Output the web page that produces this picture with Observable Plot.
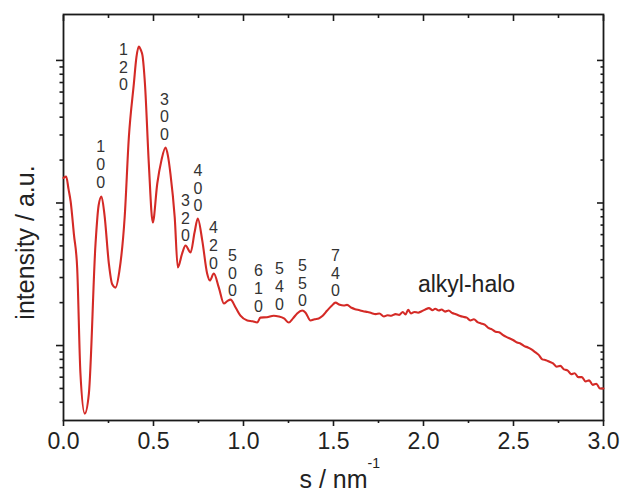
<!DOCTYPE html>
<html><head><meta charset="utf-8">
<script src="https://cdn.jsdelivr.net/npm/d3@7"></script>
<script src="https://cdn.jsdelivr.net/npm/@observablehq/plot@0.6"></script>
<style>body{margin:0;background:#fff;} #chart{width:620px;height:492px;}</style>
</head><body><div id="chart"></div>
<script>
// scattering vector s (nm^-1)
const sValues = [
  0.000,0.015,0.028,0.040,0.058,0.076,0.094,0.118,0.141,0.178,0.195,0.211,0.228,0.252,0.270,0.289,
  0.310,0.340,0.363,0.391,0.405,0.418,0.430,0.439,0.453,0.474,0.496,0.521,0.544,0.567,0.580,0.594,
  0.618,0.635,0.659,0.678,0.706,0.728,0.746,0.771,0.798,0.813,0.835,0.863,0.891,0.910,0.928,0.956,
  0.983,1.021,1.050,1.076,1.094,1.130,1.168,1.196,1.225,1.252,1.275,1.298,1.326,1.345,1.372,1.395,
  1.418,1.440,1.465,1.490,1.511,1.535,1.557,
  1.575,1.600,1.620,1.645,1.665,1.690,1.710,1.735,1.755,1.780,1.800,1.820,1.845,1.865,1.885,1.900,
  1.915,1.930,1.950,1.970,1.990,2.010,2.030,2.050,2.065,2.085,2.100,2.120,2.140,2.160,2.180,2.200,
  2.220,2.240,2.260,2.280,2.300,2.320,2.340,2.360,2.380,2.400,2.420,2.440,2.460,2.480,2.500,2.520,
  2.540,2.560,2.580,2.600,2.620,2.640,2.660,2.680,2.700,2.720,2.740,2.760,2.780,2.800,2.820,2.840,
  2.860,2.880,2.900,2.920,2.940,2.960,2.980,3.000
];
// intensity (a.u., log scale)
const intensity = [
  15.0,15.3,12.5,10.2,6.0,3.5,0.64,0.333,0.46,5.2,9.6,11.1,8.2,3.76,2.7,2.55,
  3.3,8.0,28.8,69,105,125,118,108,67,18.9,7.3,13.7,19.9,24.5,21.5,16.1,
  7.9,3.53,4.42,5.03,4.49,6.2,7.78,5.45,3.20,2.86,3.20,2.55,1.97,2.05,2.10,1.85,
  1.62,1.50,1.48,1.45,1.57,1.58,1.62,1.60,1.55,1.45,1.55,1.68,1.76,1.70,1.50,1.53,
  1.55,1.62,1.76,1.90,2.00,1.93,1.91,
  1.93,1.84,1.80,1.77,1.74,1.72,1.69,1.66,1.68,1.60,1.63,1.62,1.66,1.64,1.72,1.65,
  1.78,1.68,1.72,1.70,1.74,1.79,1.83,1.77,1.81,1.76,1.79,1.73,1.76,1.69,1.66,1.62,
  1.59,1.57,1.50,1.53,1.46,1.43,1.40,1.33,1.30,1.25,1.24,1.19,1.15,1.12,1.09,1.05,
  1.03,0.99,0.97,0.94,0.90,0.86,0.80,0.79,0.77,0.75,0.71,0.72,0.68,0.67,0.63,0.64,
  0.60,0.60,0.56,0.57,0.53,0.54,0.50,0.50
];
// Miller index labels of the reflections
const peakLabels = ["100","120","300","320","400","420","500","610","540","550","740"];
const peakLabelS = [0.206,0.333,0.561,0.678,0.747,0.833,0.939,1.083,1.200,1.328,1.511];
const peakLabelI = [12.8,61.6,27.5,5.37,8.72,3.47,2.21,1.73,1.79,1.88,2.21];
const haloLabel = ["alkyl-halo"];
const haloS = [2.239];
const haloI = [2.68];

const xTicks = [0,0.5,1.0,1.5,2.0,2.5,3.0];
const xMinor = [0.25,0.75,1.25,1.75,2.25,2.75];
const yMajor = [1,10,100];
const yMinor = [0.4,0.5,0.6,0.7,0.8,0.9,2,3,4,5,6,7,8,9,20,30,40,50,60,70,80,90];
const xTitle = "s / nm";
const xTitleSup = "-1";
const yTitle = "intensity / a.u.";

const curve = sValues.map((s, i) => ({s, v: intensity[i]}));
const peaks = peakLabels.map((t, i) => ({t: t.split("").join("\n"), s: peakLabelS[i], v: peakLabelI[i]}));
const halo = haloLabel.map((t, i) => ({t, s: haloS[i], v: haloI[i]}));
const blank = () => "";
const ink = "#1a1a1a";

const chart = Plot.plot({
  width: 620,
  height: 492,
  marginLeft: 63,
  marginRight: 17,
  marginTop: 14,
  marginBottom: 72,
  style: {fontFamily: "'Liberation Sans', Arial, sans-serif", fontSize: "23px", color: "#222", background: "#fff"},
  x: {domain: [0, 3.0]},
  y: {type: "log", domain: [0.298, 210]},
  marks: [
    Plot.axisX({anchor: "bottom", ticks: xTicks, tickSize: 6, tickPadding: 6, tickFormat: d => d.toFixed(1), fontSize: 23, label: null, strokeWidth: 1.6, stroke: ink, fill: "#222"}),
    Plot.axisX({anchor: "bottom", ticks: xMinor, tickSize: 3, tickFormat: blank, label: null, strokeWidth: 1.6, stroke: ink}),
    Plot.axisX({anchor: "top", ticks: xTicks, tickSize: -6, tickFormat: blank, label: null, strokeWidth: 1.6, stroke: ink}),
    Plot.axisX({anchor: "top", ticks: xMinor, tickSize: -3, tickFormat: blank, label: null, strokeWidth: 1.6, stroke: ink}),
    Plot.axisY({anchor: "left", ticks: yMajor, tickSize: 7, tickFormat: blank, label: null, strokeWidth: 1.6, stroke: ink}),
    Plot.axisY({anchor: "left", ticks: yMinor, tickSize: 3.5, tickFormat: blank, label: null, strokeWidth: 1.6, stroke: ink}),
    Plot.axisY({anchor: "right", ticks: yMajor, tickSize: -7, tickFormat: blank, label: null, strokeWidth: 1.6, stroke: ink}),
    Plot.axisY({anchor: "right", ticks: yMinor, tickSize: -3.5, tickFormat: blank, label: null, strokeWidth: 1.6, stroke: ink}),
    Plot.frame({stroke: ink, strokeWidth: 1.8}),
    Plot.line(curve, {x: "s", y: "v", stroke: "#d42a26", strokeWidth: 2.1, curve: "monotone-x"}),
    Plot.text(peaks, {x: "s", y: "v", text: "t", lineAnchor: "bottom", lineHeight: 1.12, fontSize: 16, fill: "#333"}),
    Plot.text(halo, {x: "s", y: "v", text: "t", lineAnchor: "middle", fontSize: 23, fill: "#222"}),
    Plot.text([yTitle], {text: d => d, frameAnchor: "left", textAnchor: "middle", rotate: -90, dx: -38, dy: 25, fontSize: 25, lineAnchor: "middle", fill: "#222"}),
    Plot.text([xTitle], {text: d => d, frameAnchor: "bottom", textAnchor: "middle", dy: 59, fontSize: 25, lineAnchor: "middle", fill: "#222"}),
    Plot.text([xTitleSup], {text: d => d, frameAnchor: "bottom", dx: 34, dy: 43, fontSize: 14, textAnchor: "start", lineAnchor: "middle", fill: "#222"})
  ]
});
document.getElementById("chart").appendChild(chart);
</script>
</body></html>
